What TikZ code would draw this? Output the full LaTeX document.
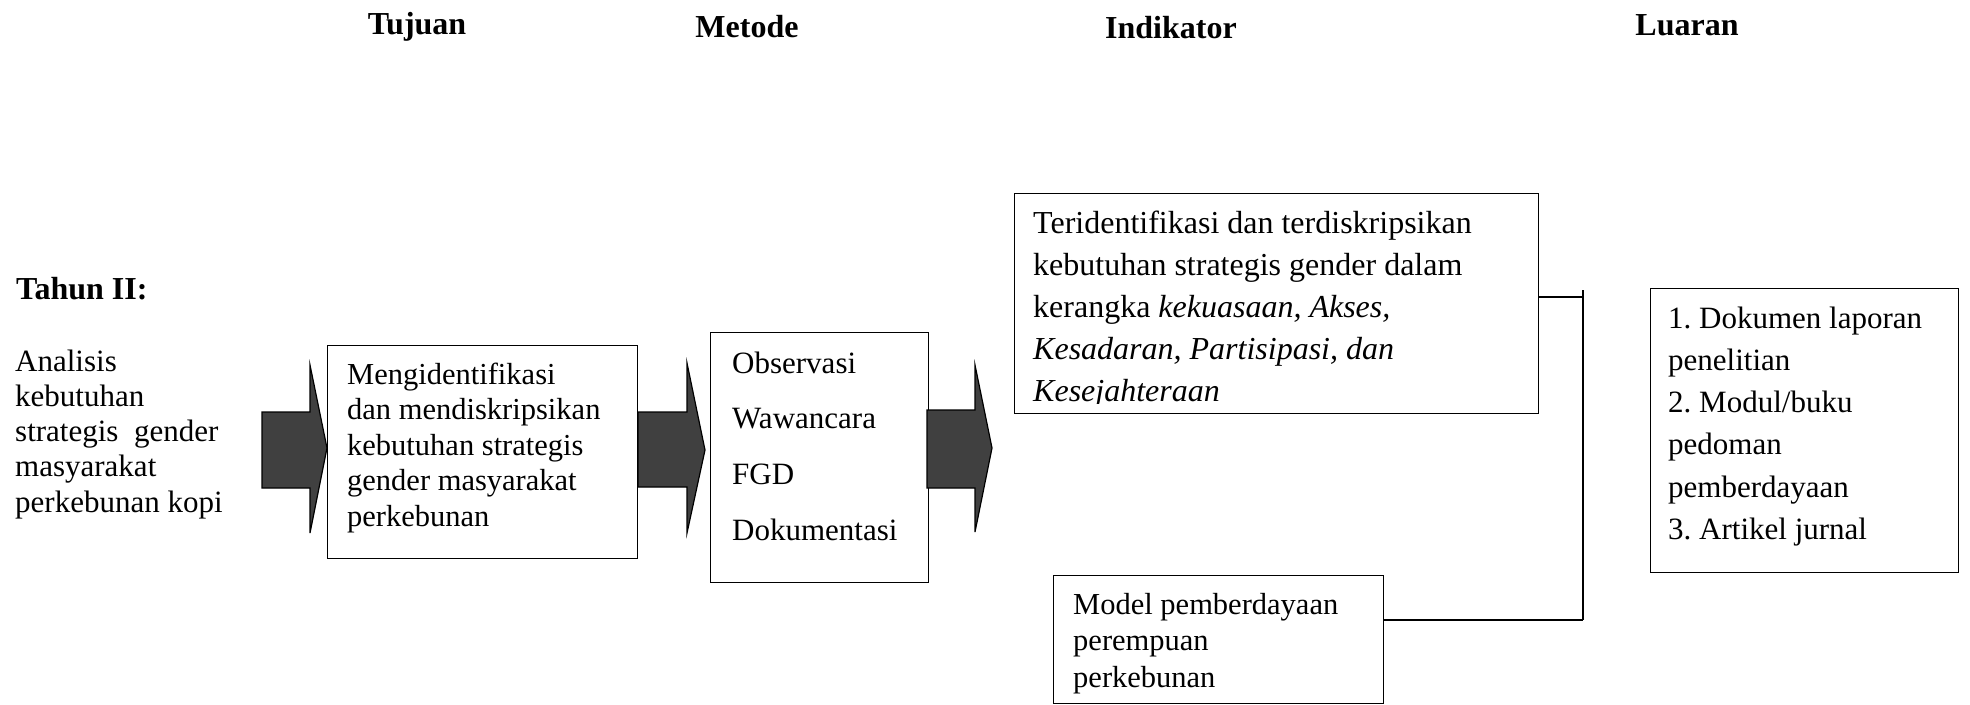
\documentclass[tikz,border=0pt]{standalone}
\usepackage{fontspec}
\setmainfont{Liberation Serif}
\newcommand\firstln{\rule{0pt}{25pt}}
\frenchspacing
\begin{document}
\begin{tikzpicture}[x=1pt,y=-1pt,
  box/.style={draw, line width=1.3pt, inner sep=0pt, anchor=north west},
  txt/.style={anchor=north west, inner sep=0pt, align=left},
  hdr/.style={anchor=base, inner sep=0pt, font=\fontsize{32}{36}\selectfont\bfseries},
  blk/.style={draw, line width=1.2pt, fill=black!75, line join=miter},
  link/.style={line width=1.3pt}]
\useasboundingbox (0,0) rectangle (1970,704);

% headers
\node[hdr] (h1) at (417,34) {Tujuan};
\node[hdr] (h2) at (747,37) {Metode};
\node[hdr] (h3) at (1171,38) {Indikator};
\node[hdr] (h4) at (1687,35) {Luaran};

\node[hdr, anchor=base west] (th) at (16,299) {Tahun II:};

% left text
\node[txt, font=\fontsize{31}{35.2}\selectfont] (lt) at (15,346)
  {\firstln Analisis\\kebutuhan\\strategis\ \ gender\\masyarakat\\perkebunan kopi};

% boxes
\node[box, minimum width=310pt, minimum height=213pt] (b1) at (327,345) {};
\node[txt, font=\fontsize{30.5}{35.5}\selectfont] (t1) at (347,359)
  {\firstln Mengidentifikasi\\dan mendiskripsikan\\kebutuhan strategis\\gender masyarakat\\perkebunan};

\node[box, minimum width=218pt, minimum height=250pt] (b2) at (710,332) {};
\node[txt, font=\fontsize{31}{55.7}\selectfont] (t2) at (732,348)
  {\firstln Observasi\\Wawancara\\FGD\\Dokumentasi};

\node[box, minimum width=524pt, minimum height=220pt] (b3) at (1014,193) {};
\begin{scope}
  \clip (1016,195) rectangle (1536,403);
  \node[txt, font=\fontsize{32}{42}\selectfont] (t3) at (1033,208)
    {\firstln Teridentifikasi dan terdiskripsikan\\kebutuhan strategis gender dalam\\kerangka \textit{kekuasaan, Akses,}\\\textit{Kesadaran, Partisipasi, dan}\\\textit{Kesejahteraan}};
\end{scope}

\node[box, minimum width=330pt, minimum height=128pt] (b4) at (1053,575) {};
\node[txt, font=\fontsize{30.5}{36.4}\selectfont] (t4) at (1073,589)
  {\firstln Model pemberdayaan\\perempuan\\perkebunan};

\node[box, minimum width=308pt, minimum height=284pt] (b5) at (1650,288) {};
\node[txt, font=\fontsize{31}{42.2}\selectfont] (t5) at (1668,303)
  {\firstln 1. Dokumen laporan\\penelitian\\2. Modul/buku\\pedoman\\pemberdayaan\\3. Artikel jurnal};

% block arrows
\draw[blk] (262,412) -- (310,412) -- (310,365) -- (b1.west |- 0,448) -- (310,533) -- (310,488) -- (262,488) -- cycle;
\draw[blk] (638,412) -- (687,412) -- (687,363) -- (705,450) -- (687,533) -- (687,487) -- (638,487) -- cycle;
\draw[blk] (927,410) -- (975,410) -- (975,365) -- (992,448) -- (975,532) -- (975,488) -- (927,488) -- cycle;

% bracket
\coordinate (jt) at (1583,290);
\coordinate (j1) at (1583,297);
\coordinate (j2) at (1583,620);
\draw[link] (b3.east |- j1) -- (j1);
\draw[link] (jt) -- (j2);
\draw[link] (b4.east |- j2) -- (j2);
\end{tikzpicture}
\end{document}
